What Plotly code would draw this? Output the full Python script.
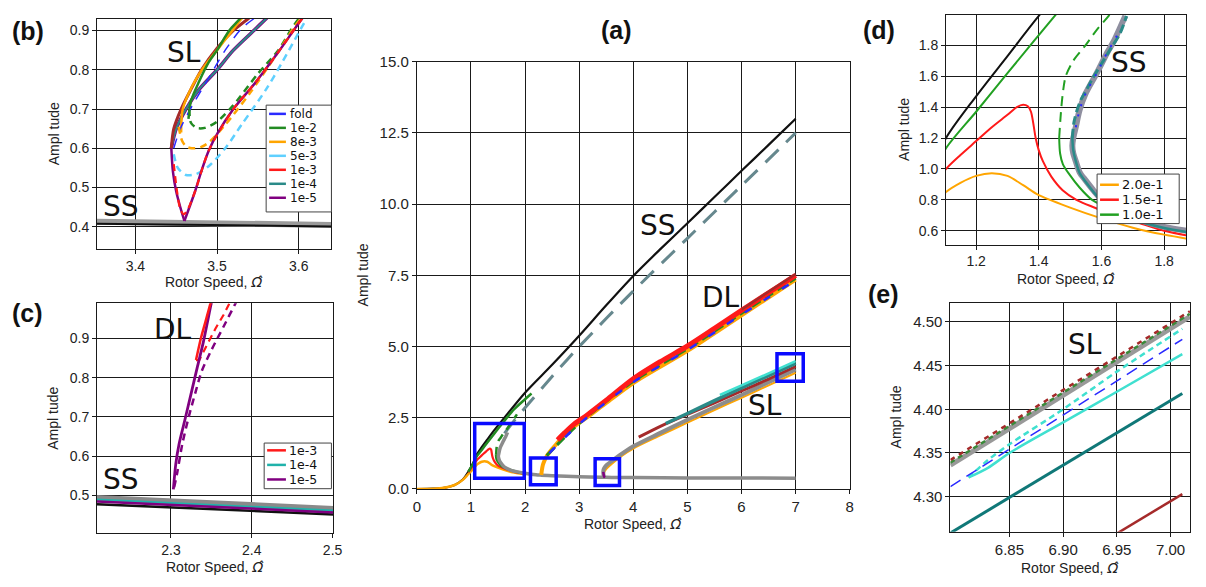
import plotly.graph_objects as go

W, H = 1206, 587

# ===================== DATA =====================
# ---- shared SS-region curves (panels a, d) ----
black_x = [0, 0.3, 0.5, 0.7, 0.85, 0.95, 1.05, 1.104, 1.2, 1.3, 1.4, 1.6, 2.0, 2.5, 3.0, 3.5, 4.0, 4.5, 5.0, 5.5, 6.0, 6.5, 7.0]
black_y = [0, 0.01, 0.04, 0.14, 0.33, 0.6, 0.95, 1.2, 1.47, 1.73, 1.99, 2.46, 3.38, 4.36, 5.38, 6.45, 7.48, 8.42, 9.33, 10.25, 11.17, 12.08, 13.0]

ssdash_x = [1.62, 1.8, 2.0, 2.5, 3.0, 4.0, 5.0, 6.0, 7.0]
ssdash_y = [1.95, 2.4, 2.85, 3.95, 5.0, 6.95, 8.8, 10.65, 12.5]

orange_x = [0, 0.3, 0.5, 0.7, 0.85, 0.95, 1.05, 1.104, 1.15, 1.2, 1.25, 1.3, 1.35, 1.4, 1.5, 1.6, 1.7, 1.8, 1.9, 2.0]
orange_y = [0, 0.01, 0.04, 0.14, 0.32, 0.52, 0.72, 0.85, 0.91, 0.955, 0.972, 0.955, 0.895, 0.83, 0.75, 0.68, 0.62, 0.575, 0.54, 0.51]

red_x = [0.95, 1.05, 1.104, 1.15, 1.2, 1.25, 1.3, 1.33, 1.35, 1.365, 1.375, 1.382, 1.39, 1.4, 1.413, 1.44, 1.476, 1.52, 1.581, 1.65, 1.718, 1.8, 1.9, 2.0]
red_y = [0.58, 0.85, 1.0, 1.09, 1.18, 1.27, 1.35, 1.4, 1.415, 1.405, 1.37, 1.3, 1.2, 1.12, 1.05, 0.95, 0.862, 0.8, 0.747, 0.69, 0.652, 0.6, 0.56, 0.53]

green_x = [0.95, 1.05, 1.104, 1.2, 1.3, 1.455, 1.6, 1.8, 2.0, 2.12]
green_y = [0.6, 0.92, 1.134, 1.37, 1.62, 2.0, 2.35, 2.8, 3.15, 3.35]

green_turn_x = [1.465, 1.468, 1.477, 1.497, 1.53, 1.57, 1.63, 1.707, 1.79, 1.871, 2.0]
green_turn_y = [1.2, 1.1, 1.03, 0.966, 0.88, 0.8, 0.74, 0.684, 0.63, 0.59, 0.545]
green_turn_dash_x = [1.465, 1.47, 1.476, 1.486, 1.51, 1.549, 1.585, 1.623, 1.7, 1.8, 1.85]
green_turn_dash_y = [1.2, 1.35, 1.48, 1.6, 1.7, 1.8, 1.9, 1.99, 2.2, 2.48, 2.62]

ss_gray_x = [1.676, 1.639, 1.618, 1.585, 1.549, 1.53, 1.518, 1.51, 1.507, 1.51, 1.518, 1.53, 1.55, 1.575,
             1.602, 1.65, 1.718, 1.8, 1.871, 2.0, 2.2, 2.3, 2.5, 3.0, 3.4, 3.6, 4.0, 5.0, 6.0, 7.0]
ss_gray_y = [1.99, 1.825, 1.752, 1.62, 1.486, 1.38, 1.27, 1.2, 1.15, 1.1, 1.05, 0.98, 0.924, 0.86,
             0.80, 0.735, 0.673, 0.625, 0.60, 0.55, 0.497, 0.485, 0.468, 0.43, 0.413, 0.407, 0.40, 0.39, 0.385, 0.38]

d_teal_x = [1.507, 1.51, 1.518, 1.53, 1.55, 1.575, 1.602, 1.65, 1.718, 1.8, 1.871]
d_teal_y = [1.2, 1.12, 1.05, 0.975, 0.915, 0.85, 0.79, 0.725, 0.665, 0.618, 0.592]
d_teal_dash_x = [1.507, 1.512, 1.522, 1.535, 1.549, 1.57, 1.6, 1.63, 1.66, 1.68]
d_teal_dash_y = [1.2, 1.3, 1.38, 1.45, 1.5, 1.58, 1.68, 1.78, 1.88, 1.99]
d_fold_x = [1.518, 1.53, 1.549, 1.585, 1.618, 1.639, 1.66]
d_fold_y = [1.27, 1.38, 1.486, 1.62, 1.752, 1.825, 1.9]

# ---- DL branch (panel a) ----
dl_red_x = [2.6, 2.73, 2.9, 3.09, 3.5, 4.0, 4.5, 5.0, 5.5, 6.0, 6.5, 7.0]
dl_red_y = [1.72, 1.97, 2.27, 2.52, 3.12, 3.87, 4.47, 5.02, 5.64, 6.27, 6.89, 7.5]
dl_orange_x = [2.3, 2.31, 2.33, 2.36, 2.4, 2.5, 2.6, 2.73, 2.9, 3.1, 3.5, 4.0, 5.0, 6.0, 7.0]
dl_orange_y = [0.49, 0.65, 0.85, 1.0, 1.15, 1.4, 1.62, 1.9, 2.18, 2.45, 3.02, 3.72, 4.85, 6.1, 7.35]
dl_green_x = [2.4, 3.0, 4.0, 5.0, 6.0, 7.0]
dl_green_y = [1.17, 2.3, 3.78, 4.92, 6.17, 7.4]
dl_blue_x = [2.45, 3.0, 4.0, 5.0, 6.0, 7.0]
dl_blue_y = [1.26, 2.28, 3.75, 4.88, 6.12, 7.33]
dl_brown_x = [6.0, 7.0]
dl_brown_y = [6.3, 7.55]

# ---- SL branch (panel a) ----
sl_gray_x = [3.46, 3.45, 3.445, 3.455, 3.48, 3.52, 3.6, 3.7, 3.85, 4.0, 4.5, 5.0, 5.5, 6.0, 6.5, 7.0]
sl_gray_y = [0.42, 0.5, 0.6, 0.7, 0.78, 0.86, 0.98, 1.12, 1.32, 1.5, 1.97, 2.43, 2.87, 3.3, 3.75, 4.2]
sl_orange_x = [3.45, 3.47, 3.5, 3.6, 3.8, 4.0, 4.5, 5.0, 5.5, 6.0, 6.5, 7.0]
sl_orange_y = [0.5, 0.62, 0.7, 0.88, 1.18, 1.42, 1.88, 2.33, 2.77, 3.2, 3.64, 4.08]
sl_purple_x = [3.445, 3.455, 3.46, 3.47]
sl_purple_y = [0.6, 0.48, 0.42, 0.47]
sl_brown_x = [4.1, 4.5, 5.0, 5.5, 6.0, 6.5, 7.0]
sl_brown_y = [1.82, 2.2, 2.62, 3.02, 3.44, 3.86, 4.3]
sl_teal_x = [4.6, 5.0, 5.5, 6.0, 6.5, 7.0]
sl_teal_y = [2.3, 2.65, 3.1, 3.55, 3.98, 4.41]
sl_turq_x = [5.6, 6.0, 6.5, 7.0]
sl_turq_y = [3.3, 3.64, 4.06, 4.49]

zoom_boxes_a = [  # (x0, x1, y0, y1)
    (1.07, 1.985, 0.375, 2.30),
    (2.10, 2.575, 0.147, 1.09),
    (3.295, 3.745, 0.12, 1.06),
    (6.655, 7.14, 3.78, 4.75),
]

# ---- panel (b) ----
b_ss_gray_x = [3.353, 3.64]
b_ss_gray_y = [0.413, 0.405]
b_ss_black_x = [3.353, 3.64]
b_ss_black_y = [0.408, 0.401]
b_fold_x = [3.447, 3.455, 3.47, 3.49, 3.51, 3.53, 3.545]
b_fold_y = [0.60, 0.65, 0.71, 0.78, 0.85, 0.905, 0.93]
b_brown_x = [3.444, 3.447, 3.456, 3.468, 3.481, 3.5, 3.52, 3.538, 3.55]
b_brown_y = [0.60, 0.65, 0.70, 0.75, 0.80, 0.855, 0.90, 0.93, 0.95]
b_upper_x = [3.444, 3.45, 3.462, 3.478, 3.5, 3.52, 3.545, 3.56, 3.57]
b_upper_y = [0.60, 0.65, 0.70, 0.75, 0.80, 0.85, 0.90, 0.93, 0.95]
b_green_x = [3.465, 3.468, 3.478, 3.49, 3.5, 3.515, 3.528, 3.535]
b_green_y = [0.675, 0.72, 0.77, 0.82, 0.85, 0.90, 0.93, 0.95]
b_orange_x = [3.456, 3.458, 3.47, 3.485, 3.5, 3.515, 3.53, 3.54]
b_orange_y = [0.64, 0.70, 0.76, 0.81, 0.85, 0.89, 0.93, 0.95]
b_green_dash_x = [3.466, 3.468, 3.475, 3.485, 3.5, 3.52, 3.55, 3.575, 3.59, 3.6, 3.61]
b_green_dash_y = [0.70, 0.665, 0.652, 0.652, 0.668, 0.71, 0.79, 0.85, 0.9, 0.93, 0.95]
b_orange_dash_x = [3.453, 3.457, 3.462, 3.469, 3.48, 3.49, 3.51, 3.54, 3.57, 3.595, 3.61]
b_orange_dash_y = [0.655, 0.62, 0.605, 0.60, 0.603, 0.615, 0.66, 0.74, 0.83, 0.91, 0.95]
b_lblue_dash_x = [3.447, 3.452, 3.462, 3.475, 3.49, 3.51, 3.53, 3.56, 3.58, 3.6, 3.615]
b_lblue_dash_y = [0.585, 0.55, 0.532, 0.535, 0.555, 0.60, 0.66, 0.75, 0.82, 0.895, 0.95]
b_purple_left_x = [3.444, 3.446, 3.45, 3.455, 3.46]
b_purple_left_y = [0.60, 0.54, 0.49, 0.45, 0.415]
b_purple_right_x = [3.46, 3.473, 3.481, 3.49, 3.501, 3.52, 3.546, 3.575, 3.604, 3.62]
b_purple_right_y = [0.415, 0.49, 0.543, 0.595, 0.64, 0.70, 0.765, 0.845, 0.93, 0.97]
b_red_dash_x = [3.447, 3.451, 3.455, 3.459, 3.463, 3.473, 3.49, 3.52, 3.546, 3.575, 3.604, 3.62]
b_red_dash_y = [0.56, 0.49, 0.445, 0.432, 0.44, 0.49, 0.595, 0.70, 0.765, 0.845, 0.93, 0.97]

# ---- panel (c) ----
c_ss_x = [2.2085, 2.501]
c_ss_gray_y = [0.493, 0.465]
c_ss_teal_y = [0.489, 0.461]
c_ss_purple_y = [0.484, 0.456]
c_ss_black_y = [0.477, 0.451]
c_purple_x = [2.303, 2.306, 2.31, 2.317, 2.325, 2.333, 2.34, 2.345, 2.35, 2.353]
c_purple_y = [0.515, 0.58, 0.63, 0.69, 0.76, 0.83, 0.89, 0.94, 0.99, 1.01]
c_red_x = [2.331, 2.337, 2.343, 2.349, 2.352]
c_red_y = [0.845, 0.9, 0.945, 0.99, 1.01]
c_red_dash_x = [2.331, 2.335, 2.345, 2.355, 2.365, 2.375]
c_red_dash_y = [0.845, 0.845, 0.885, 0.925, 0.96, 1.0]
c_purple_dash_x = [2.304, 2.308, 2.314, 2.322, 2.33, 2.338, 2.35, 2.365, 2.38, 2.385]
c_purple_dash_y = [0.52, 0.56, 0.63, 0.7, 0.76, 0.816, 0.87, 0.93, 0.99, 1.01]

# ---- panel (e) ----
e_top_x = [6.795, 7.018]
e_top_gray_y = [4.336, 4.506]
e_top_green_y = [4.339, 4.509]
e_top_brown_y = [4.342, 4.512]
e_turq_x = [6.812, 6.83, 6.85, 6.9, 6.95, 7.011]
e_turq_dash_y = [4.322, 4.342, 4.36, 4.40, 4.443, 4.492]
e_turq_solid_y = [4.322, 4.333, 4.35, 4.385, 4.42, 4.463]
e_blue_x = [6.795, 7.011]
e_blue_y = [4.3115, 4.48]
e_teal_x = [6.795, 7.011]
e_teal_y = [4.2585, 4.418]
e_brown_x = [6.94, 7.011]
e_brown_y = [4.2505, 4.303]

# ---- legends ----
leg_b_labels = ["fold", "1e-2", "8e-3", "5e-3", "1e-3", "1e-4", "1e-5"]
leg_b_colors = ["#2a2aff", "#228b22", "#ffa500", "#5fd0ff", "#ff1a1a", "#2a8a88", "#800080"]
leg_c_labels = ["1e-3", "1e-4", "1e-5"]
leg_c_colors = ["#ff1a1a", "#20b2aa", "#800080"]
leg_d_labels = ["2.0e-1", "1.5e-1", "1.0e-1"]
leg_d_colors = ["#ffa500", "#ff1a1a", "#22a022"]

# ===================== FIGURE =====================
C = dict(black="#111111", gray="#8c8c8c", slate="#66888e", orange="#ffa500", red="#ff1a1a",
         green="#228b22", green2="#22a022", blue="#2a2aff", lblue="#5fd0ff", teal="#2a8a88",
         teal2="#20b2aa", purple="#800080", brown="#a52a2a", turq="#40e0d0", dteal="#107878")

fig = go.Figure()


def line(xs, ys, ax, color, width, dash="solid", spline=True):
    fig.add_trace(go.Scatter(
        x=xs, y=ys, xaxis="x" + ax, yaxis="y" + ax, mode="lines",
        line=dict(color=color, width=width, dash=dash,
                  shape="spline" if spline else "linear", smoothing=0.8),
        showlegend=False, hoverinfo="skip"))


# panel (a)
A = ""
line(black_x, black_y, A, C["black"], 2.2)
line(ssdash_x, ssdash_y, A, C["slate"], 3, "18px,11px")
line(orange_x, orange_y, A, C["orange"], 2.5)
line(red_x, red_y, A, C["red"], 2.2)
line(green_x, green_y, A, C["green"], 2.5)
line(green_turn_x, green_turn_y, A, C["green"], 2.5)
line(green_turn_dash_x, green_turn_dash_y, A, C["green"], 2.5, "8px,6px")
line(ss_gray_x, ss_gray_y, A, C["gray"], 3.5)
line(dl_orange_x, dl_orange_y, A, C["orange"], 4)
line(dl_green_x, dl_green_y, A, C["green"], 3, "10px,5px")
line(dl_red_x, dl_red_y, A, C["red"], 5)
line(dl_blue_x, dl_blue_y, A, C["blue"], 2.5, "8px,14px")
line(dl_brown_x, dl_brown_y, A, C["brown"], 2.5)
line(sl_orange_x, sl_orange_y, A, C["orange"], 2)
line(sl_gray_x, sl_gray_y, A, C["gray"], 4)
line(sl_purple_x, sl_purple_y, A, C["purple"], 2.5)
line(sl_brown_x, sl_brown_y, A, C["brown"], 3)
line(sl_teal_x, sl_teal_y, A, C["teal"], 3.5)
line(sl_turq_x, sl_turq_y, A, C["turq"], 2.5)

# panel (b)
B = "2"
line(b_ss_gray_x, b_ss_gray_y, B, "#9a9a9a", 6, spline=False)
line(b_ss_black_x, b_ss_black_y, B, C["black"], 2, spline=False)
line(b_upper_x, b_upper_y, B, C["purple"], 3.5)
line(b_upper_x, b_upper_y, B, C["teal"], 2)
line(b_brown_x, b_brown_y, B, C["brown"], 3)
line(b_orange_x, b_orange_y, B, C["orange"], 2.5)
line(b_green_x, b_green_y, B, C["green"], 2.5)
line(b_fold_x, b_fold_y, B, C["blue"], 1.5, "10px,8px")
line(b_green_dash_x, b_green_dash_y, B, C["green"], 2.5, "7px,5px")
line(b_orange_dash_x, b_orange_dash_y, B, C["orange"], 2.5, "7px,5px")
line(b_lblue_dash_x, b_lblue_dash_y, B, C["lblue"], 2.5, "7px,5px")
line(b_purple_left_x, b_purple_left_y, B, C["purple"], 2.5)
line(b_purple_right_x, b_purple_right_y, B, C["purple"], 2.5)
line(b_red_dash_x, b_red_dash_y, B, C["red"], 2.2, "7px,5px")

# panel (c)
Cc = "3"
line(c_ss_x, c_ss_gray_y, Cc, "#8a8a8a", 6, spline=False)
line(c_ss_x, c_ss_teal_y, Cc, C["teal2"], 2, spline=False)
line(c_ss_x, c_ss_black_y, Cc, C["black"], 2.5, spline=False)
line(c_ss_x, c_ss_purple_y, Cc, C["purple"], 2.5, spline=False)
line(c_purple_dash_x, c_purple_dash_y, Cc, C["purple"], 2.5, "7px,5px")
line(c_red_dash_x, c_red_dash_y, Cc, C["red"], 2.2, "7px,5px", spline=False)
line(c_purple_x, c_purple_y, Cc, C["purple"], 2.8)
line(c_red_x, c_red_y, Cc, C["red"], 2.5)

# panel (d)
D = "4"
line(black_x, black_y, D, C["black"], 2)
line(green_x, green_y, D, C["green2"], 2)
line(red_x, red_y, D, C["red"], 2)
line(orange_x, orange_y, D, C["orange"], 2)
line(green_turn_x, green_turn_y, D, C["green2"], 2)
line(green_turn_dash_x, green_turn_dash_y, D, C["green2"], 2, "10px,6px")
line(ss_gray_x, ss_gray_y, D, "#8f8fa0", 6)
line(d_teal_x, d_teal_y, D, C["teal"], 2.5)
line(d_teal_dash_x, d_teal_dash_y, D, C["teal"], 3, "9px,4px")
line(d_fold_x, d_fold_y, D, C["blue"], 2, "2px,9px")

# panel (e)
E = "5"
line(e_top_x, e_top_gray_y, E, "#999999", 5, spline=False)
line(e_top_x, e_top_green_y, E, "#3a8a3a", 2.5, "5px,4px", spline=False)
line(e_top_x, e_top_brown_y, E, C["brown"], 2.5, "5px,5px", spline=False)
line(e_turq_x, e_turq_dash_y, E, C["turq"], 2.5, "6px,4px")
line(e_turq_x, e_turq_solid_y, E, C["turq"], 2.5)
line(e_blue_x, e_blue_y, E, C["blue"], 1.5, "12px,7px", spline=False)
line(e_teal_x, e_teal_y, E, C["dteal"], 3, spline=False)
line(e_brown_x, e_brown_y, E, C["brown"], 2.5, spline=False)

# ===================== AXES =====================
TITLEFONT = dict(family="Liberation Sans, Arial", size=14, color="#222")
XTITLE = 'Rotor Speed, <span style="font-family:DejaVu Sans"><i>\u03A9\u0302</i></span>'
YTITLE = "Ampl tude"

panels = {
    # suffix: (px box l, t, r, b), xrange, yrange, xticks, yticks, xfmt, yfmt, tick size,
    #         x-title y px, y-title x px
    "": ((417.3, 54.3, 855.0, 494.3), [0, 8], [0, 15], [0, 1, 2, 3, 4, 5, 6, 7, 8],
         [0, 2.5, 5, 7.5, 10, 12.5, 15], "d", ".1f", 15, 530, 363),
    "2": ((94.0, 10.0, 331.0, 247.0), [3.353, 3.64], [0.344, 0.930], [3.4, 3.5, 3.6],
          [0.4, 0.5, 0.6, 0.7, 0.8, 0.9], ".1f", ".1f", 14, 281.5, 50),
    "3": ((94.0, 303.0, 333.0, 540.0), [2.2085, 2.501], [0.4026, 0.99], [2.3, 2.4, 2.5],
          [0.5, 0.6, 0.7, 0.8, 0.9], ".1f", ".1f", 14, 575, 50),
    "4": ((952.3, 6.0, 1195.3, 242.7), [1.104, 1.871], [0.51, 1.997], [1.2, 1.4, 1.6, 1.8],
          [0.6, 0.8, 1.0, 1.2, 1.4, 1.6, 1.8], ".1f", ".1f", 14, 278.5, 910),
    "5": ((956.7, 302.3, 1199.3, 538.3), [6.795, 7.0185], [4.26, 4.522], [6.85, 6.90, 6.95, 7.00],
          [4.30, 4.35, 4.40, 4.45, 4.50], ".2f", ".2f", 15, 576, 902),
}

layout_axes = {}
axis_titles = []
for suf, (box, xr, yr, xt, yt, xf, yf, tfs, xty, ytx) in panels.items():
    l, t, r, b = box
    tickfont = dict(family="Liberation Sans, Arial", size=tfs, color="#222")
    common = dict(showgrid=True, gridcolor="#1a1a1a", gridwidth=1, showline=True, mirror=True,
                  linecolor="#1a1a1a", linewidth=1, ticks="outside", ticklen=4,
                  tickcolor="#1a1a1a", zeroline=False, tickfont=tickfont, fixedrange=True)
    layout_axes["xaxis" + suf] = dict(common, domain=[l / W, r / W], range=xr, tickvals=xt,
                                      tickformat=xf, anchor="y" + suf)
    layout_axes["yaxis" + suf] = dict(common, domain=[1 - b / H, 1 - t / H], range=yr,
                                      tickvals=yt, tickformat=yf, anchor="x" + suf)
    axis_titles.append(dict(xref="paper", yref="paper", x=(l + r) / 2 / W, y=1 - xty / H,
                            text=XTITLE, showarrow=False, font=TITLEFONT,
                            xanchor="center", yanchor="middle"))
    axis_titles.append(dict(xref="paper", yref="paper", x=ytx / W, y=1 - (t + b) / 2 / H,
                            text=YTITLE, showarrow=False, font=TITLEFONT, textangle=-90,
                            xanchor="center", yanchor="middle"))

fig.update_layout(**layout_axes)

shapes = []
annotations = list(axis_titles)

# zoom boxes in (a)
for (x0, x1, y0, y1) in zoom_boxes_a:
    shapes.append(dict(type="rect", xref="x", yref="y", x0=x0, x1=x1, y0=y0, y1=y1,
                       line=dict(color="#0a0aff", width=3.5), layer="above"))

# region labels
BIG = dict(family="DejaVu Sans", size=28, color="#111")
region_labels = [
    ("", 4.46, 9.25, "SS"), ("", 5.62, 6.74, "DL"), ("", 6.44, 2.93, "SL"),
    ("2", 3.459, 0.844, "SL"), ("2", 3.383, 0.452, "SS"),
    ("3", 2.302, 0.923, "DL"), ("3", 2.238, 0.539, "SS"),
    ("4", 1.689, 1.689, "SS"),
    ("5", 6.92, 4.474, "SL"),
]
for suf, x, y, txt in region_labels:
    annotations.append(dict(xref="x" + suf, yref="y" + suf, x=x, y=y, text=txt, showarrow=False,
                            font=BIG, xanchor="center", yanchor="middle"))

# panel letters
PL = dict(family="Liberation Sans, Arial", size=25, color="#111")
for txt, px, py, anchor in [("<b>(a)</b>", 619, 22, "center"), ("<b>(b)</b>", 6, 23, "left"),
                            ("<b>(c)</b>", 6, 313, "left"), ("<b>(d)</b>", 866, 22, "left"),
                            ("<b>(e)</b>", 871, 293, "left")]:
    annotations.append(dict(xref="paper", yref="paper", x=px / W, y=1 - py / H, text=txt,
                            showarrow=False, font=PL, xanchor=anchor, yanchor="middle"))


def legend(box, row0, step, lx0, lx1, tx, labels, colors, fsize):
    l, t, r, b = box
    shapes.append(dict(type="rect", xref="paper", yref="paper", x0=l / W, x1=r / W,
                       y0=1 - b / H, y1=1 - t / H, fillcolor="white",
                       line=dict(color="#444", width=1), layer="above"))
    for i, (lab, col) in enumerate(zip(labels, colors)):
        yy = row0 + i * step
        shapes.append(dict(type="line", xref="paper", yref="paper", x0=lx0 / W, x1=lx1 / W,
                           y0=1 - yy / H, y1=1 - yy / H, line=dict(color=col, width=2.5),
                           layer="above"))
        annotations.append(dict(xref="paper", yref="paper", x=tx / W, y=1 - yy / H, text=lab,
                                showarrow=False, xanchor="left", yanchor="middle",
                                borderpad=0,
                                font=dict(family="DejaVu Sans", size=fsize, color="#111")))


legend((265, 99, 331, 209), 108, 14.4, 268, 285, 288, leg_b_labels, leg_b_colors, 12)
legend((263, 447, 331, 494), 454.5, 15.0, 266, 285, 287, leg_c_labels, leg_c_colors, 12.5)
legend((1105, 170, 1188, 221), 181, 15.4, 1108, 1127, 1129, leg_d_labels, leg_d_colors, 13)

fig.update_layout(width=W, height=H, margin=dict(l=0, r=0, t=0, b=0),
                  plot_bgcolor="white", paper_bgcolor="white", showlegend=False,
                  shapes=shapes, annotations=annotations)

fig.write_html("out.html")
